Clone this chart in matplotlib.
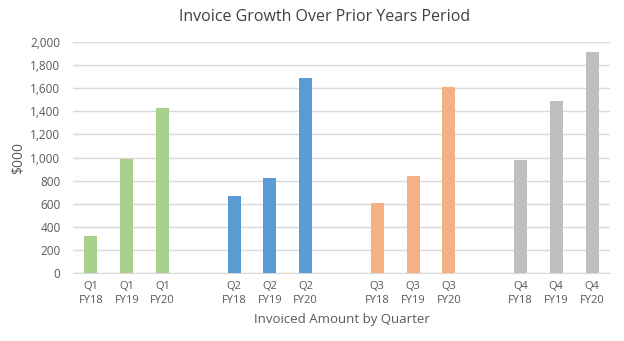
import matplotlib.pyplot as plt
import numpy as np

plt.rcParams['font.family'] = ['Open Sans', 'DejaVu Sans']

# data ($000)
quarters = ["Q1", "Q2", "Q3", "Q4"]
years = ["FY18", "FY19", "FY20"]
q1_vals = [320, 987, 1430]
q2_vals = [670, 825, 1686]
q3_vals = [606, 840, 1610]
q4_vals = [978, 1489, 1911]
colors = ["#A9D18E", "#5B9BD5", "#F4B183", "#BFBFBF"]

fig = plt.figure(figsize=(6.24, 3.41), dpi=100)
ax = fig.add_axes([73 / 624, 68 / 341, 537 / 624, 231 / 341])

text_col = "#595959"
pos = []
labels = []
for qi, (q, vals) in enumerate(zip(quarters, [q1_vals, q2_vals, q3_vals, q4_vals])):
    x = np.arange(3) + qi * 4
    ax.bar(x, vals, width=0.36, color=colors[qi], zorder=3)
    pos += list(x)
    labels += [q + "\n" + y for y in years]

ax.set_xlim(-0.5, 14.5)
ax.set_ylim(0, 2000)
ax.set_yticks(np.arange(0, 2001, 200))
ax.set_yticklabels([f"{v:,}" for v in range(0, 2001, 200)])
ax.set_xticks(pos)
ax.set_xticklabels(labels, fontsize=8, color=text_col, linespacing=1.35)
ax.tick_params(axis='y', labelsize=8.5, colors=text_col, length=0, pad=9)
ax.tick_params(axis='x', length=0, pad=6)

ax.grid(axis='y', color="#D9D9D9", linewidth=1, zorder=0)
for s in ["top", "right", "left"]:
    ax.spines[s].set_visible(False)
ax.spines["bottom"].set_color("#D9D9D9")

ax.set_ylabel("$000", fontsize=10, color=text_col, labelpad=3)
ax.set_xlabel("Invoiced Amount by Quarter", fontsize=9.5, color=text_col, labelpad=5)
fig.text(0.52, 0.95, "Invoice Growth Over Prior Years Period", ha='center', va='center',
         fontsize=11.5, color="#404040")

fig.savefig("out.png")
